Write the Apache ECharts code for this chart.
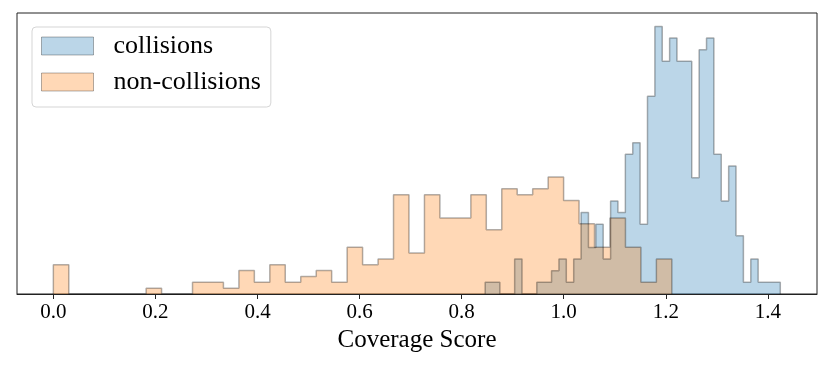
<!DOCTYPE html>
<html>
<head>
<meta charset="utf-8">
<script src="https://cdn.jsdelivr.net/npm/echarts@6/dist/echarts.min.js"></script>
<style>
  html, body { margin: 0; padding: 0; background: #fff; }
  #chart { width: 830px; height: 369px; }
</style>
</head>
<body>
<div id="chart"></div>
<script>
// histogram counts, 40 bins each
const collisionRange = [0.846, 1.4243];
const collisionCounts = [1, 1, 0, 0, 3, 0, 0, 1, 1, 2, 3, 1, 3, 7, 4, 6, 3, 8, 7, 12,
  13, 6, 17, 23, 20, 22, 20, 20, 10, 21, 22, 12, 8, 11, 5, 1, 3, 1, 1, 1];
const nonCollisionRange = [0, 1.2118];
const nonCollisionCounts = [5, 0, 0, 0, 0, 0, 1, 0, 0, 2, 2, 1, 4, 2, 5, 2, 3, 4, 2, 8,
  5, 6, 17, 7, 17, 13, 13, 17, 11, 18, 17, 18, 20, 16, 12, 8, 13, 8, 2, 6];
const tickValues = [0, 0.2, 0.4, 0.6, 0.8, 1.0, 1.2, 1.4];

const serif = 'Liberation Serif';

// density=True step outline: [edge, density] points for a step:'end' line
function stepData(range, counts) {
  const n = counts.length;
  const w = (range[1] - range[0]) / n;
  const total = counts.reduce((a, b) => a + b, 0);
  const pts = [[range[0], 0]];
  for (let i = 0; i < n; i++) {
    pts.push([range[0] + i * w, counts[i] / (total * w)]);
  }
  pts.push([range[1], counts[n - 1] / (total * w)]);
  pts.push([range[1], 0]);
  return pts;
}

const blueData = stepData(collisionRange, collisionCounts);
const orangeData = stepData(nonCollisionRange, nonCollisionCounts);
const yTop = Math.max(...blueData.map(p => p[1]), ...orangeData.map(p => p[1])) * 1.05;

const chart = echarts.init(document.getElementById('chart'), null, { renderer: 'canvas' });

const option = {
  animation: false,
  grid: {
    left: 17, right: 13, top: 13, bottom: 75,
    show: true, borderColor: '#222', borderWidth: 1, backgroundColor: 'transparent'
  },
  legend: {
    orient: 'vertical',
    left: 32, top: 27,
    padding: [6, 10, 12, 9],
    itemWidth: 52, itemHeight: 18, itemGap: 10,
    backgroundColor: '#fff',
    borderColor: '#d5d5d5', borderWidth: 1, borderRadius: 4,
    selectedMode: false,
    textStyle: {
      fontFamily: serif, fontSize: 26, color: '#000',
      lineHeight: 26, padding: [0, 0, 0, 15]
    },
    data: [
      {
        name: 'collisions', icon: 'rect',
        itemStyle: { color: 'rgba(31,119,180,0.3)', borderColor: 'rgba(0,0,0,0.3)', borderWidth: 1 }
      },
      {
        name: 'non-collisions', icon: 'rect',
        itemStyle: { color: 'rgba(255,127,14,0.3)', borderColor: 'rgba(0,0,0,0.3)', borderWidth: 1 }
      }
    ]
  },
  xAxis: {
    type: 'value',
    min: -0.0712, max: 1.4962,
    splitLine: { show: false },
    axisLine: { show: true, onZero: false, lineStyle: { color: '#222', width: 1 } },
    axisTick: { show: true, customValues: tickValues, length: 5, lineStyle: { color: '#222' } },
    axisLabel: {
      customValues: tickValues,
      formatter: v => v.toFixed(1),
      fontFamily: serif, fontSize: 21, color: '#000', margin: 8
    },
    name: 'Coverage Score',
    nameLocation: 'middle',
    nameGap: 31,
    nameTextStyle: { fontFamily: serif, fontSize: 25, color: '#000' }
  },
  yAxis: {
    type: 'value',
    min: 0, max: yTop,
    show: false,
    splitLine: { show: false }
  },
  series: [
    {
      name: 'collisions',
      type: 'line',
      step: 'end',
      data: blueData,
      symbol: 'none',
      itemStyle: { color: 'rgba(31,119,180,0.3)' },
      lineStyle: { color: 'rgba(0,0,0,0.3)', width: 1.5 },
      areaStyle: { color: 'rgba(31,119,180,0.3)', opacity: 1 }
    },
    {
      name: 'non-collisions',
      type: 'line',
      step: 'end',
      data: orangeData,
      symbol: 'none',
      itemStyle: { color: 'rgba(255,127,14,0.3)' },
      lineStyle: { color: 'rgba(0,0,0,0.3)', width: 1.5 },
      areaStyle: { color: 'rgba(255,127,14,0.3)', opacity: 1 }
    }
  ]
};

if (option && typeof option === 'object') {
  chart.setOption(option, true);
}
</script>
</body>
</html>
